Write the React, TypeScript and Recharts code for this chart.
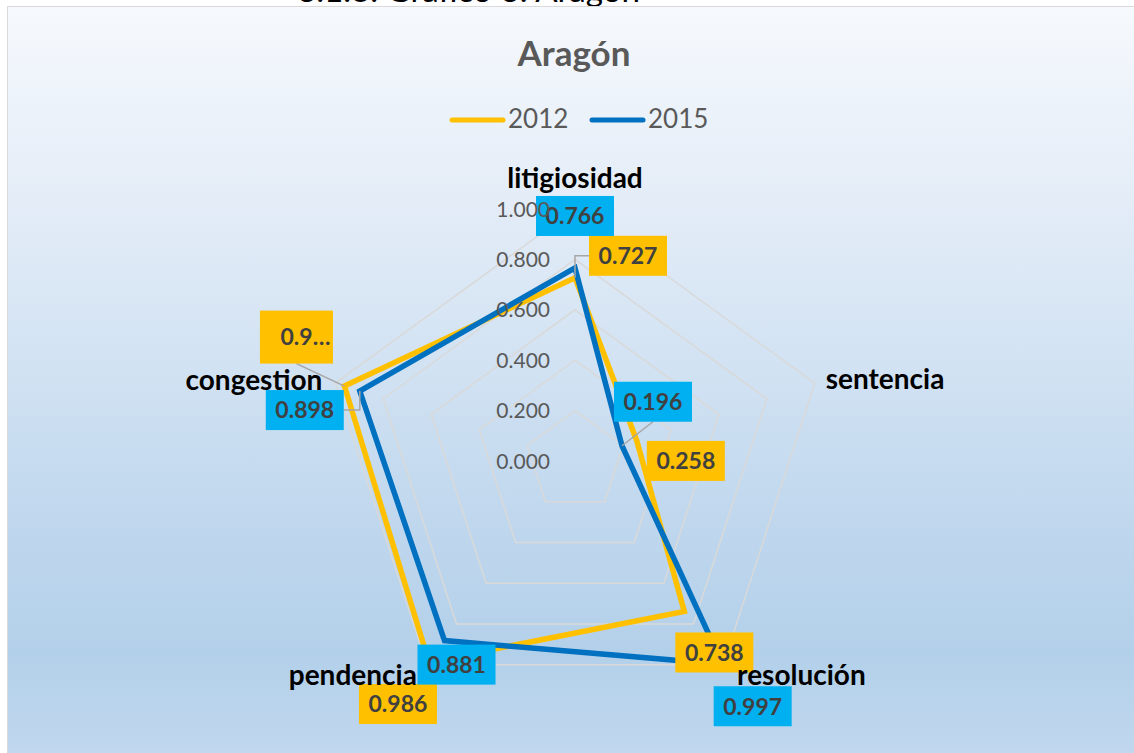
import React from 'react';
import { RadarChart, Radar, PolarGrid, PolarAngleAxis, PolarRadiusAxis } from 'recharts';

// ---------- data ----------
const CATEGORIES = ['litigiosidad', 'sentencia', 'resolución', 'pendencia', 'congestion'];
const VALUES_2012 = [0.727, 0.258, 0.738, 0.986, 0.962];
const VALUES_2015 = [0.766, 0.196, 0.997, 0.881, 0.898];
const LABELS_2012 = ['0.727', '0.258', '0.738', '0.986', '0.9…'];
const LABELS_2015 = ['0.766', '0.196', '0.997', '0.881', '0.898'];
const RADIUS_TICKS = [0, 0.2, 0.4, 0.6, 0.8, 1.0];
const SERIES_NAMES = ['2012', '2015'];
const TITLE = 'Aragón';
const HEADING = '6.1.3. Gráfico 6: Aragón';

// ---------- styles / layout ----------
const COLORS = ['#FFC000', '#0070C0'];
const LABEL_FILLS = ['#FFC000', '#00B0F0'];
const FONT = 'Lato, "Open Sans", "DejaVu Sans", sans-serif';
const W = 1134;
const H = 753;
const CX = 575;
const CY = 461;
const R = 252;

type Place = { dx: number; dy: number; w: number; h: number; leader: 'none' | 'elbow' | 'straight'; tx?: number };

const PLACE_2012: Place[] = [
  { dx: 53, dy: -22, w: 78, h: 40, leader: 'elbow' },
  { dx: 49, dy: 20, w: 78, h: 40, leader: 'none' },
  { dx: 30, dy: 41, w: 78, h: 40, leader: 'none' },
  { dx: -31, dy: 42, w: 78, h: 40, leader: 'none' },
  { dx: -48, dy: -49, w: 73, h: 53, leader: 'straight', tx: 9 },
];
const PLACE_2015: Place[] = [
  { dx: 0, dy: -52, w: 78, h: 40, leader: 'none' },
  { dx: 31, dy: -44, w: 78, h: 40, leader: 'straight' },
  { dx: 30, dy: 42, w: 78, h: 40, leader: 'none' },
  { dx: 12, dy: 24, w: 78, h: 40, leader: 'none' },
  { dx: -55, dy: 19, w: 78, h: 40, leader: 'elbow' },
];

const CAT_LABEL_POS = [
  { dx: 0, dy: -31, anchor: 'middle' },
  { dx: 11, dy: -4, anchor: 'start' },
  { dx: 14, dy: 10, anchor: 'start' },
  { dx: -10, dy: 10, anchor: 'end' },
  { dx: -13, dy: -3, anchor: 'end' },
];

const data = CATEGORIES.map((cat, i) => ({ cat, y2012: VALUES_2012[i], y2015: VALUES_2015[i] }));

const RadiusTick = (props: any) => {
  const { x, y, payload } = props;
  return (
    <text x={x - 25} y={y} dy="0.36em" textAnchor="end" fill="#595959" fontSize={21} fontFamily={FONT}>
      {Number(payload.value).toFixed(3)}
    </text>
  );
};

const AngleTick = (props: any) => {
  const { payload } = props;
  const idx = typeof props.index === 'number' ? props.index : CATEGORIES.indexOf(payload.value);
  const cx = typeof props.cx === 'number' ? props.cx : CX;
  const cy = typeof props.cy === 'number' ? props.cy : CY;
  const r = typeof props.radius === 'number' ? props.radius : R;
  const ang = (-payload.coordinate * Math.PI) / 180;
  const vx = cx + Math.cos(ang) * r;
  const vy = cy + Math.sin(ang) * r;
  const p = CAT_LABEL_POS[idx] || { dx: 0, dy: 0, anchor: 'middle' };
  return (
    <text
      x={vx + p.dx}
      y={vy + p.dy}
      dy="0.35em"
      textAnchor={p.anchor as any}
      fill="#000000"
      fontWeight={700}
      fontSize={28}
      fontFamily={FONT}
    >
      {payload.value}
    </text>
  );
};

const makeLabelDot = (texts: string[], places: Place[], fill: string) => (props: any) => {
  const { cx: px, cy: py, index } = props;
  const p = places[index];
  if (!p || typeof px !== 'number') return <g key={`e-${index}`} />;
  const bx = px + p.dx;
  const by = py + p.dy;
  const left = bx - p.w / 2;
  const top = by - p.h / 2;
  let leader: any = null;
  if (p.leader === 'elbow') {
    const edge = bx > px ? left : left + p.w;
    leader = (
      <polyline points={`${px},${py} ${px},${by} ${edge},${by}`} fill="none" stroke="#A6A6A6" strokeWidth={1.5} />
    );
  } else if (p.leader === 'straight') {
    leader = <line x1={px} y1={py} x2={bx} y2={top + p.h} stroke="#A6A6A6" strokeWidth={1.5} />;
  }
  return (
    <g key={`lbl-${fill}-${index}`}>
      {leader}
      <rect x={left} y={top} width={p.w} height={p.h} fill={fill} />
      <text
        x={bx + (p.tx || 0)}
        y={by}
        dy="0.36em"
        textAnchor="middle"
        fill="#404040"
        fontWeight={700}
        fontSize={23}
        fontFamily={FONT}
      >
        {texts[index]}
      </text>
    </g>
  );
};

const label2012 = makeLabelDot(LABELS_2012, PLACE_2012, LABEL_FILLS[0]);
const label2015 = makeLabelDot(LABELS_2015, PLACE_2015, LABEL_FILLS[1]);

export default function App() {
  const axisZ: any = { zIndex: 3000 };
  return (
    <div style={{ position: 'absolute', left: 0, top: 0, width: W, height: H, overflow: 'hidden', background: '#ffffff' }}>
      <svg width={W} height={H} style={{ position: 'absolute', left: 0, top: 0 }}>
        <text x={297} y={2} fontSize={30} fontFamily={FONT} fill="#000" textLength={343} lengthAdjust="spacingAndGlyphs">
          {HEADING}
        </text>
      </svg>
      <div
        style={{
          position: 'absolute',
          left: 7,
          top: 6,
          width: 1140,
          height: 770,
          border: '1px solid #D9D9D9',
          background:
            'linear-gradient(to bottom, #F6F9FD 0%, #E6EEF8 22%, #D3E3F3 45%, #C1D8EE 65%, #B3D0EA 84%, #C3D9EF 100%)',
        }}
      />
      <div style={{ position: 'absolute', left: 0, top: 0 }}>
        <RadarChart
          width={W}
          height={H}
          data={data}
          cx={CX}
          cy={CY}
          outerRadius={R}
          margin={{ top: 0, right: 0, bottom: 0, left: 0 }}
        >
          <PolarGrid gridType="polygon" radialLines={false} stroke="#D9D9D9" strokeWidth={1.5} />
          <Radar
            name={SERIES_NAMES[0]}
            dataKey="y2012"
            stroke={COLORS[0]}
            strokeWidth={5.5}
            strokeLinejoin="miter"
            fill="none"
            fillOpacity={0}
            dot={false}
            isAnimationActive={false}
          />
          <Radar
            name={SERIES_NAMES[1]}
            dataKey="y2015"
            stroke={COLORS[1]}
            strokeWidth={5.5}
            strokeLinejoin="miter"
            fill="none"
            fillOpacity={0}
            dot={false}
            isAnimationActive={false}
          />
          <Radar
            dataKey="y2012"
            stroke="none"
            fill="none"
            fillOpacity={0}
            dot={label2012}
            legendType="none"
            isAnimationActive={false}
          />
          <Radar
            dataKey="y2015"
            stroke="none"
            fill="none"
            fillOpacity={0}
            dot={label2015}
            legendType="none"
            isAnimationActive={false}
          />
          <PolarRadiusAxis
            angle={90}
            domain={[0, 1]}
            ticks={RADIUS_TICKS as any}
            tickCount={6}
            axisLine={false}
            tickLine={false}
            tick={RadiusTick}
            {...axisZ}
          />
          <PolarAngleAxis dataKey="cat" tickLine={false} axisLine={false} tick={AngleTick} {...axisZ} />
        </RadarChart>
      </div>
      <svg width={W} height={H} style={{ position: 'absolute', left: 0, top: 0, pointerEvents: 'none' }}>
        <text x={574} y={66} textAnchor="middle" fontSize={35} fontWeight={700} fontFamily={FONT} fill="#595959">
          {TITLE}
        </text>
        {SERIES_NAMES.map((name, i) => {
          const x0 = 452 + i * 140;
          return (
            <g key={name}>
              <line x1={x0} y1={120} x2={x0 + 51} y2={120} stroke={COLORS[i]} strokeWidth={5} strokeLinecap="round" />
              <text x={x0 + 56} y={128} fontSize={26} fontFamily={FONT} fill="#595959">
                {name}
              </text>
            </g>
          );
        })}
      </svg>
    </div>
  );
}
